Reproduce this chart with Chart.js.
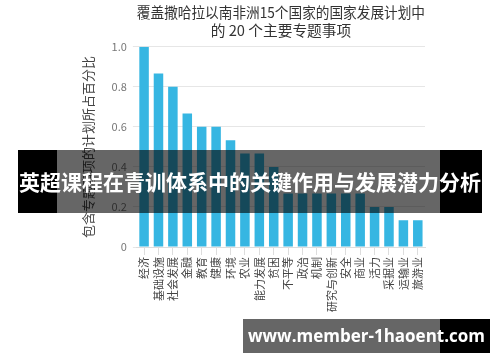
<!DOCTYPE html>
<html>
<head>
<meta charset="utf-8">
<script src="https://cdn.jsdelivr.net/npm/chart.js@4.4.1/dist/chart.umd.min.js"></script>
<style>
  html, body { margin: 0; padding: 0; background: #fff; }
  #wrap { position: relative; width: 500px; height: 362px; overflow: hidden; }
  #c { position: absolute; left: 0; top: 0; }
  .blk { position: absolute; background: #000; }
  .tr { position: absolute; background: rgba(0,0,0,0.6); }
  .txt { position: absolute; color: #fff; font-weight: bold; white-space: nowrap; }
</style>
</head>
<body>
<div id="wrap">
  <canvas id="c" width="500" height="362"></canvas>
  <!-- banner overlay -->
  <div class="blk" style="left:18px;top:150px;width:39px;height:63px;"></div>
  <div class="tr" style="left:57px;top:150px;width:383px;height:63px;"></div>
  <div class="blk" style="left:440px;top:150px;width:42px;height:63px;"></div>
  <div class="txt" id="banner" style="left:18px;top:150px;width:464px;height:63px;line-height:63px;text-align:center;font-family:'Noto Sans CJK SC',sans-serif;font-size:21px;">英超课程在青训体系中的关键作用与发展潜力分析</div>
  <!-- watermark overlay -->
  <div class="tr" style="left:243px;top:319px;width:197px;height:34px;"></div>
  <div class="blk" style="left:440px;top:319px;width:50px;height:34px;"></div>
  <div class="txt" style="left:243px;top:319px;width:247px;height:34px;line-height:34px;text-align:center;font-family:'Open Sans',sans-serif;font-size:17px;">www.member-1haoent.com</div>
</div>
<script>
const titleLines = ['覆盖撒哈拉以南非洲15个国家的国家发展计划中', '的 20 个主要专题事项'];
const yAxisTitle = '包含专题事项的计划所占百分比';
const categories = ['经济','基础设施','社会发展','金融','教育','健康','环境','农业','能力发展','贫困','不平等','政治','机制','研究与创新','安全','商业','活力','采掘业','运输业','旅游业'];
const shares = [1.0, 0.867, 0.8, 0.667, 0.6, 0.6, 0.533, 0.467, 0.467, 0.4, 0.267, 0.267, 0.267, 0.267, 0.267, 0.267, 0.2, 0.2, 0.133, 0.133];
const yTickLabels = ['0', '0.2', '0.4', '0.6', '0.8', '1.0'];

const FONT = "'Noto Sans CJK SC', 'Open Sans', sans-serif";
Chart.defaults.font.family = FONT;

new Chart(document.getElementById('c'), {
  type: 'bar',
  data: {
    labels: categories,
    datasets: [{
      data: shares,
      backgroundColor: '#36b6e2',
      borderWidth: 0,
      barPercentage: 0.66,
      categoryPercentage: 1.0
    }]
  },
  options: {
    responsive: false,
    animation: false,
    layout: { padding: { left: 80, right: 75, top: 0, bottom: 48 } },
    plugins: {
      legend: { display: false },
      tooltip: { enabled: false },
      title: {
        display: true,
        text: titleLines,
        fullSize: false,
        color: '#333',
        font: { size: 14.7, weight: 'normal', lineHeight: 1.25, family: FONT },
        padding: { top: 3, bottom: 7 }
      }
    },
    scales: {
      x: {
        grid: { display: true, drawOnChartArea: false, offset: false, color: '#dddddd', tickLength: 8 },
        border: { display: true, color: '#dddddd' },
        ticks: { minRotation: 90, maxRotation: 90, autoSkip: false, color: '#444', font: { size: 11, family: FONT }, padding: 2 }
      },
      y: {
        min: 0,
        max: 1,
        grid: { color: '#e6e6e6', tickLength: 4 },
        border: { display: false },
        ticks: {
          stepSize: 0.2,
          color: '#777',
          font: { size: 11, family: FONT },
          padding: 6,
          callback: (v, i) => yTickLabels[i]
        },
        title: {
          display: true,
          text: yAxisTitle,
          color: '#444',
          font: { size: 13, weight: 'normal', family: FONT },
          padding: { top: 0, bottom: 10 }
        }
      }
    }
  }
});
</script>
</body>
</html>
